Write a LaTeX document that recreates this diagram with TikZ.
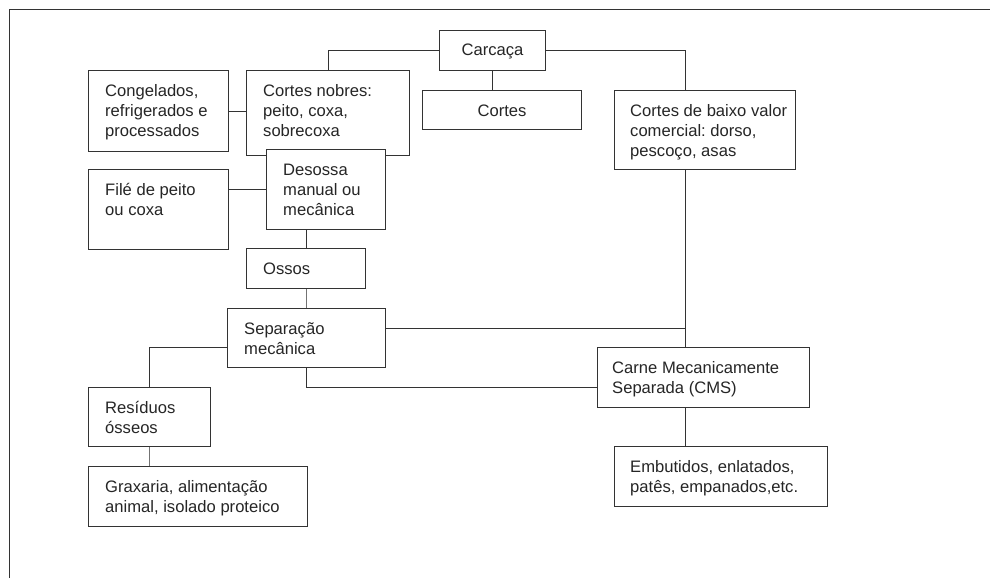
\documentclass[tikz,border=0pt]{standalone}
\usepackage{fontspec}
\setmainfont{Liberation Sans}
\frenchspacing
\newcommand\tl[1]{\parbox[t]{240pt}{\raggedright #1}}
\begin{document}
\begin{tikzpicture}[x=1pt,y=-1pt,
  box/.style={draw=black!80, line width=1pt, fill=white, inner sep=0pt, anchor=north west},
  txt/.style={font=\fontsize{16.6}{20}\selectfont, text=black!85, inner sep=0pt, anchor=base west},
  ctxt/.style={font=\fontsize{16.6}{20}\selectfont, text=black!85, inner sep=0pt, anchor=base},
  ln/.style={draw=black!80, line width=1pt},
  gln/.style={draw=black!55, line width=1pt}]
\useasboundingbox (0,0) rectangle (990,578);
\draw[ln] (9,578) -- (9,10) -- (990,10);
\coordinate (vx) at (685,0);
% boxes
\node[box, minimum width=106pt, minimum height=40pt] (carcaca) at (439,30) {};
\node[box, minimum width=163pt, minimum height=85pt] (cn) at (246,70) {};
\node[box, minimum width=140pt, minimum height=81pt] (cong) at (88,70) {};
\node[box, minimum width=119pt, minimum height=80pt] (des) at (266,149) {};
\node[box, minimum width=140pt, minimum height=80pt] (file) at (88,169) {};
\node[box, minimum width=119pt, minimum height=40pt] (ossos) at (246,248) {};
\node[box, minimum width=159pt, minimum height=39pt] (cortes) at (422,90) {};
\node[box, minimum width=181pt, minimum height=79pt] (baixo) at (614,90) {};
\node[box, minimum width=158pt, minimum height=59pt] (sep) at (227,308) {};
\node[box, minimum width=122pt, minimum height=59pt] (res) at (88,387) {};
\node[box, minimum width=219pt, minimum height=60pt] (grax) at (88,466) {};
\node[box, minimum width=212pt, minimum height=60pt] (cms) at (597,347) {};
\node[box, minimum width=213pt, minimum height=60pt] (emb) at (614,446) {};
% texts
\node[ctxt] at ([yshift=-25.5pt]carcaca.north) {Carcaça};
\node[ctxt] at ([yshift=-26pt]cortes.north) {Cortes};
\node[txt] at ([shift={(17pt,-26.5pt)}]cn.north west) {\tl{Cortes nobres:\\peito, coxa,\\sobrecoxa}};
\node[txt] at ([shift={(17pt,-26.5pt)}]cong.north west) {\tl{Congelados,\\refrigerados e\\processados}};
\node[txt] at ([shift={(17pt,-26.5pt)}]des.north west) {\tl{Desossa\\manual ou\\mecânica}};
\node[txt] at ([shift={(17pt,-26.5pt)}]file.north west) {\tl{Filé de peito\\ou coxa}};
\node[txt] at ([shift={(17pt,-26.5pt)}]ossos.north west) {\tl{Ossos}};
\node[txt] at ([shift={(16pt,-26pt)}]baixo.north west) {\tl{Cortes de baixo valor\\comercial: dorso,\\pescoço, asas}};
\node[txt] at ([shift={(17pt,-26pt)}]sep.north west) {\tl{Separação\\mecânica}};
\node[txt] at ([shift={(17pt,-26pt)}]res.north west) {\tl{Resíduos\\ósseos}};
\node[txt] at ([shift={(17pt,-26pt)}]grax.north west) {\tl{Graxaria, alimentação\\animal, isolado proteico}};
\node[txt] at ([shift={(15pt,-26pt)}]cms.north west) {\tl{Carne Mecanicamente\\Separada (CMS)}};
\node[txt] at ([shift={(16pt,-26pt)}]emb.north west) {\tl{Embutidos, enlatados,\\patês, empanados,etc.}};
% connectors
\draw[ln] (carcaca.west) -| (cn.north);
\draw[ln] (carcaca.south) -- (carcaca.south |- cortes.north);
\draw[ln] (carcaca.east) -| (vx |- baixo.north);
\draw[ln] (vx |- baixo.south) -- (vx |- cms.north);
\draw[ln] (sep.east |- 0,328) -- (vx |- 0,328);
\draw[ln] (sep.south) |- (cms.west |- 0,387);
\draw[ln] (sep.west |- 0,347) -| (res.north);
\draw[gln] (res.south) -- (res.south |- grax.north);
\draw[ln] (ossos.north) -- (ossos.north |- des.south);
\draw[gln] (ossos.south) -- (ossos.south |- sep.north);
\draw[ln] (cong.east) -- (cong.east -| cn.west);
\draw[ln] (des.west) -- (des.west -| file.east);
\draw[ln] (vx |- cms.south) -- (vx |- emb.north);
\end{tikzpicture}
\end{document}
